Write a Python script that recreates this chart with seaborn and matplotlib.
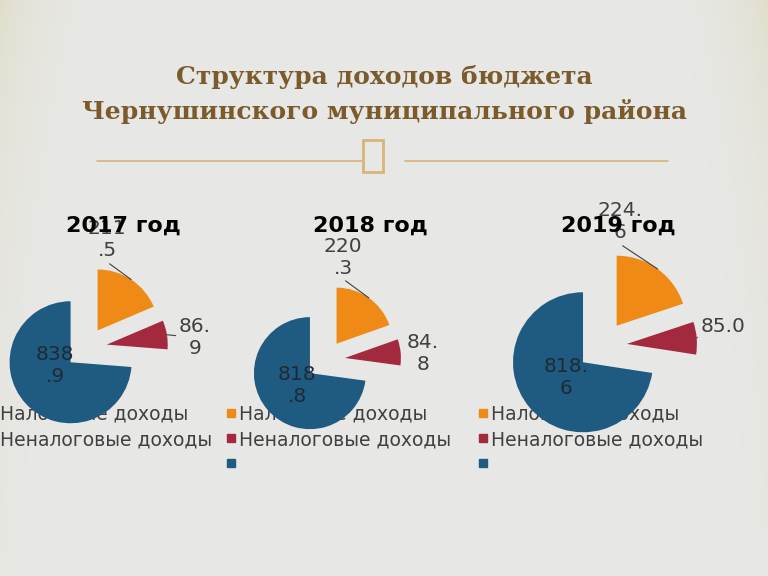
import numpy as np
import matplotlib.pyplot as plt
from matplotlib.lines import Line2D
from matplotlib.legend import Legend
from matplotlib.patches import Rectangle
import seaborn as sns

# данные
years = ["2017 год", "2018 год", "2019 год"]
categories = ["Налоговые доходы", "Неналоговые доходы", ""]
tax_income = [211.5, 220.3, 224.6]
nontax_income = [86.9, 84.8, 85.0]
other_income = [838.9, 818.8, 818.6]
value_labels = [["211\n.5", "86.\n9", "838\n.9"],
                ["220\n.3", "84.\n8", "818\n.8"],
                ["224.\n6", "85.0", "818.\n6"]]

# раскладка (пиксели, y сверху вниз)
W, H = 768, 576
pie_centers = [(86, 348), (325, 360), (602, 346)]
pie_radius = [61, 56, 70]
pie_explode = [21, 20, 25]
year_title_x = [123, 370, 618]
label_offsets = [[(21, -108), (109, -10), (-31, 17)],
                 [(18, -103), (98, -6), (-28, 25)],
                 [(18, -124), (121, -19), (-36, 31)]]
leader_relpos = [[(0.45, 0.0), (0.0, 0.55)],
                 [(0.45, 0.0), None],
                 [(0.45, 0.0), (0.0, 0.2)]]
legend_anchor = [(-14, 405), (225, 405), (477, 405)]

sns.set_theme(style="white")
colors = sns.color_palette(["#ef8a17", "#a3293f", "#1f5a80"])
plt.rcParams["font.family"] = ["DejaVu Sans"]

fig = plt.figure(figsize=(7.68, 5.76), dpi=100)
ax = fig.add_axes([0, 0, 1, 1])

def sy(y):
    return H - y

# фон с бежевыми верхними углами
xs = np.arange(W)
ys = np.arange(H)
wx = np.exp(-xs / 40.0) + np.exp(-(W - xs) / 40.0)
wy = 0.15 + 0.85 * np.exp(-ys / 160.0)
w = np.clip(wx[None, :] * wy[:, None], 0, 1)[..., None]
grey = np.array([232, 232, 231]) / 255
beige = np.array([224, 222, 202]) / 255
bg = grey * (1 - w) + beige * w
ax.imshow(bg, extent=(0, W, 0, H), origin="upper", zorder=0, aspect="auto")

# заголовок
title_color = "#7b5b2b"
ax.text(384, sy(77), "Структура доходов бюджета", ha="center", va="center",
        fontsize=18, fontweight="bold", family="DejaVu Serif", color=title_color)
ax.text(384, sy(112), "Чернушинского муниципального района", ha="center", va="center",
        fontsize=18, fontweight="bold", family="DejaVu Serif", color=title_color)
orn = "#d8b47a"
ax.plot([97, 362], [sy(161), sy(161)], color=orn, lw=1.2, zorder=1)
ax.plot([405, 668], [sy(161), sy(161)], color=orn, lw=1.2, zorder=1)
ax.add_patch(Rectangle((363, sy(172)), 20, 32, fill=False, edgecolor=orn, lw=2, zorder=1))

handles = [Line2D([], [], marker="s", ls="none", color=c, markersize=6) for c in colors]

for i in range(3):
    vals = [tax_income[i], nontax_income[i], other_income[i]]
    cx, cy = pie_centers[i]
    wedges, _ = ax.pie(vals, colors=colors, startangle=90, counterclock=False,
                       explode=[pie_explode[i]] * 3, center=(cx, sy(cy)),
                       radius=pie_radius[i], frame=True)
    for wdg in wedges:
        wdg.set_zorder(3)
        wdg.set_linewidth(0)

    for j, wdg in enumerate(wedges):
        dx, dy = label_offsets[i][j]
        tx, ty = cx + dx, sy(cy + dy)
        if j == 2:
            ax.text(tx, ty, value_labels[i][j], ha="center", va="center",
                    multialignment="center", fontsize=14.5, color="#1e2a36", zorder=4)
            continue
        mid = np.deg2rad((wdg.theta1 + wdg.theta2) / 2)
        vx, vy = wdg.center
        ex = vx + wdg.r * np.cos(mid)
        ey = vy + wdg.r * np.sin(mid)
        rel = leader_relpos[i][j]
        arrow = None
        if rel is not None:
            arrow = dict(arrowstyle="-", color="#404040", lw=0.8,
                         relpos=rel, shrinkA=0, shrinkB=0)
        ax.annotate(value_labels[i][j], xy=(ex, ey), xytext=(tx, ty),
                    ha="center", va="center", multialignment="center",
                    fontsize=14.5, color="#404040", zorder=4, arrowprops=arrow)

    ax.text(year_title_x[i], sy(226), years[i], ha="center", va="center",
            fontsize=16, fontweight="bold", color="black", zorder=5)

    lx, ly = legend_anchor[i]
    leg = Legend(ax, handles, categories, loc="upper left",
                 bbox_to_anchor=(lx / W, 1 - ly / H), frameon=False,
                 fontsize=13.5, labelspacing=0.32, handlelength=0.6,
                 handletextpad=0.15, borderpad=0, borderaxespad=0,
                 labelcolor="#404040")
    leg.set_zorder(2)
    ax.add_artist(leg)

ax.set_xlim(0, W)
ax.set_ylim(0, H)
ax.set_aspect("auto")
ax.axis("off")
fig.savefig("out.png", dpi=100)
